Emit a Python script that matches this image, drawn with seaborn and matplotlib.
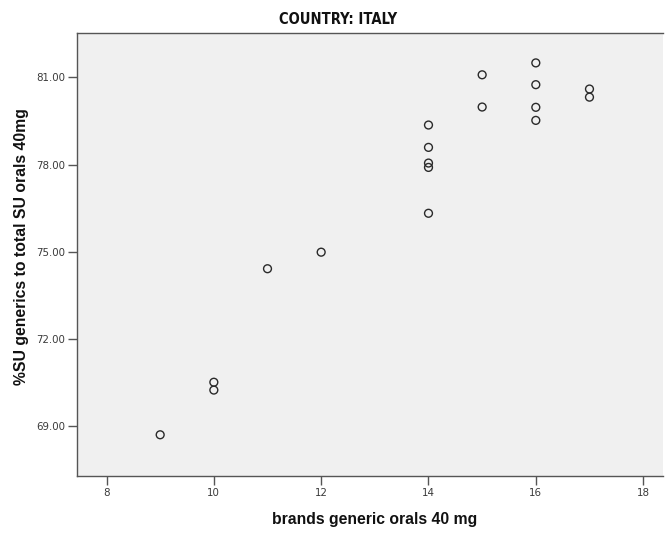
import matplotlib
matplotlib.use("Agg")
import matplotlib.pyplot as plt
import seaborn as sns
import pandas as pd

# Italy: number of generic brands vs. generic share of SU orals (40 mg)
brands = [9, 10, 10, 11, 12, 14, 14, 14, 14, 14, 15, 15, 16, 16, 16, 16, 17, 17]
share = [68.69, 70.50, 70.23, 74.41, 74.98, 79.36, 78.59, 78.05, 77.90, 76.32,
         81.09, 79.98, 81.50, 80.75, 79.97, 79.52, 80.60, 80.32]
x_ticks = [8, 10, 12, 14, 16, 18]
y_ticks = [69, 72, 75, 78, 81]

df = pd.DataFrame({"brands": brands, "share": share})

sns.set_style("white")
plt.rcParams["font.family"] = ["Liberation Sans", "DejaVu Sans"]

fig = plt.figure(figsize=(6.65, 5.33), dpi=100)
ax = fig.add_axes([77 / 665, 1 - 476 / 533, (663 - 77) / 665, (476 - 33) / 533])
ax.set_facecolor("#f0f0f0")

sns.scatterplot(data=df, x="brands", y="share", ax=ax, marker="o", s=32,
                facecolors="none", edgecolors="#2a2a2a", linewidth=1.0)

ax.set_xlim(7.45, 18.37)
ax.set_ylim(67.27, 82.53)
ax.set_xticks(x_ticks)
ax.set_yticks(y_ticks)
ax.set_xticklabels([str(v) for v in x_ticks], fontfamily="DejaVu Sans",
                   fontsize=7.4, color="#3a3a3a")
ax.set_yticklabels([f"{v:.2f}" for v in y_ticks], fontfamily="DejaVu Sans",
                   fontsize=7.4, color="#3a3a3a")
ax.tick_params(axis="both", direction="out", length=6.5, width=1, color="#555555",
               pad=2, bottom=True, left=True)

for side in ("left", "bottom", "top"):
    ax.spines[side].set_color("#555555")
    ax.spines[side].set_linewidth(1.0)
ax.spines["right"].set_visible(False)

ax.set_xlabel("brands generic orals 40 mg", fontsize=11.3, fontweight="bold",
              color="#111111", labelpad=10)
ax.set_ylabel("%SU generics to total SU orals 40mg", fontsize=11.3, fontweight="bold",
              color="#111111")
ax.xaxis.label.set_x(0.5085)
ax.yaxis.set_label_coords(-0.082, 0.519)

fig.text(338 / 665, 1 - 19 / 533, "COUNTRY: ITALY", ha="center", va="center",
         fontfamily="DejaVu Sans", fontstretch="condensed", fontweight="bold",
         fontsize=10.5, color="#111111")

fig.savefig("out.png", dpi=100)
